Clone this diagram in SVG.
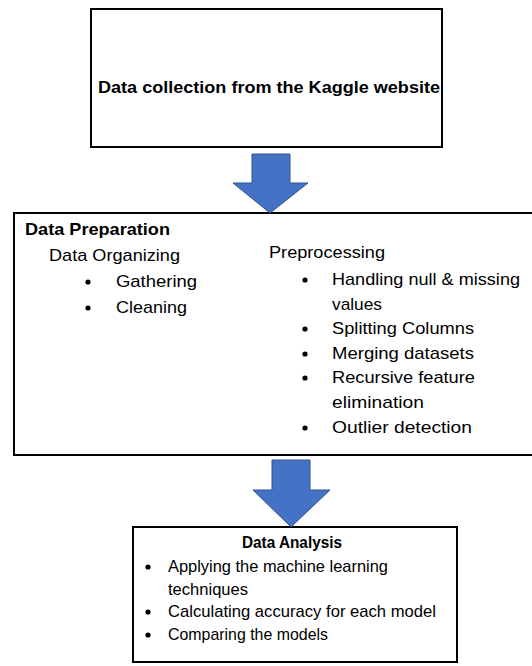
<svg xmlns="http://www.w3.org/2000/svg" width="532" height="666" viewBox="0 0 532 666">
<style>
.box{fill:#fff;stroke:#000;stroke-width:2}
.t{font-family:"Liberation Sans",Arial,sans-serif;font-size:17px;fill:#000}
.b{font-weight:bold}
.arrow{fill:#4472C4;stroke:#2F528F;stroke-width:1}
.dot{fill:#000}
</style>
<rect width="532" height="666" fill="#fff"/>
<g id="node-collection">
<rect class="box" x="91" y="9" width="351" height="138"/>
<text class="t b" x="98" y="93" textLength="342" lengthAdjust="spacingAndGlyphs">Data collection from the Kaggle website</text>
</g>
<g id="node-preparation">
<rect class="box" x="14" y="213" width="522" height="242"/>
<text class="t b" x="25" y="235" textLength="145" lengthAdjust="spacingAndGlyphs">Data Preparation</text>
<text class="t" x="49" y="261" textLength="131" lengthAdjust="spacingAndGlyphs">Data Organizing</text>
<circle class="dot" cx="88" cy="282" r="2.6"/>
<text class="t" x="116" y="287" textLength="81" lengthAdjust="spacingAndGlyphs">Gathering</text>
<circle class="dot" cx="88" cy="308" r="2.6"/>
<text class="t" x="116" y="313" textLength="71" lengthAdjust="spacingAndGlyphs">Cleaning</text>
<text class="t" x="269" y="258" textLength="116" lengthAdjust="spacingAndGlyphs">Preprocessing</text>
<circle class="dot" cx="305" cy="280" r="2.6"/>
<text class="t" x="332" y="285" textLength="188" lengthAdjust="spacingAndGlyphs">Handling null &amp; missing</text>
<text class="t" x="332" y="310" textLength="50" lengthAdjust="spacingAndGlyphs">values</text>
<circle class="dot" cx="305" cy="329" r="2.6"/>
<text class="t" x="332" y="334" textLength="142" lengthAdjust="spacingAndGlyphs">Splitting Columns</text>
<circle class="dot" cx="305" cy="354" r="2.6"/>
<text class="t" x="332" y="359" textLength="142" lengthAdjust="spacingAndGlyphs">Merging datasets</text>
<circle class="dot" cx="305" cy="378" r="2.6"/>
<text class="t" x="332" y="383" textLength="143" lengthAdjust="spacingAndGlyphs">Recursive feature</text>
<text class="t" x="332" y="408" textLength="92" lengthAdjust="spacingAndGlyphs">elimination</text>
<circle class="dot" cx="305" cy="428" r="2.6"/>
<text class="t" x="332" y="433" textLength="140" lengthAdjust="spacingAndGlyphs">Outlier detection</text>
</g>
<g id="node-analysis">
<rect class="box" x="133" y="527" width="324" height="135"/>
<text class="t b" x="292" y="548" text-anchor="middle" textLength="100" lengthAdjust="spacingAndGlyphs">Data Analysis</text>
<circle class="dot" cx="148" cy="567" r="2.6"/>
<text class="t" x="168" y="572" textLength="220" lengthAdjust="spacingAndGlyphs">Applying the machine learning</text>
<text class="t" x="168" y="595" textLength="80" lengthAdjust="spacingAndGlyphs">techniques</text>
<circle class="dot" cx="148" cy="612" r="2.6"/>
<text class="t" x="168" y="617" textLength="268" lengthAdjust="spacingAndGlyphs">Calculating accuracy for each model</text>
<circle class="dot" cx="148" cy="635" r="2.6"/>
<text class="t" x="168" y="640" textLength="160" lengthAdjust="spacingAndGlyphs">Comparing the models</text>
</g>
<g id="connectors">
<polygon class="arrow" points="252,154 290,154 290,183 308,183 270,213 233,183 252,183"/>
<polygon class="arrow" points="272,460 310,460 310,490 330,490 291,527 253,490 272,490"/>
</g>
</svg>
